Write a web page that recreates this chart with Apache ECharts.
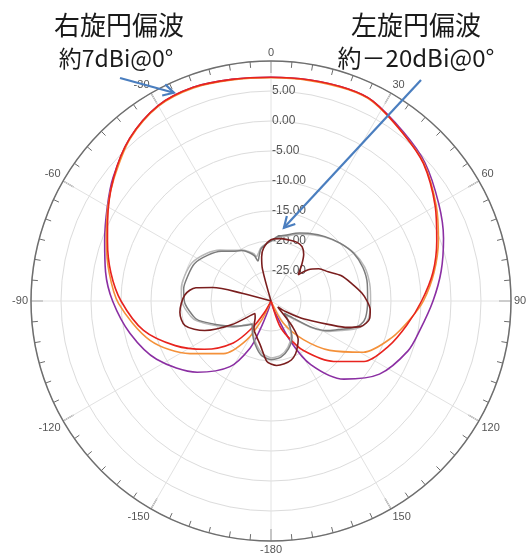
<!DOCTYPE html>
<html>
<head>
<meta charset="utf-8">
<script src="https://cdn.jsdelivr.net/npm/echarts@6/dist/echarts.min.js"></script>
<style>
  html, body { margin: 0; padding: 0; background: #fff; }
  #chart { width: 526px; height: 554px; }
</style>
</head>
<body>
<div id="chart"></div>
<script>
// Radiation pattern, gain in dBi versus angle in degrees (-180..180, 0 = boresight).
// Co-polar (right-hand circular) cuts
const rhcpPurple = [
  [-180,-30],[-165,-30],[-163,-28.4],[-159,-24.8],[-156,-21.4],[-148,-17.1],[-134,-12.9],
  [-117,-8.6],[-103,-5.9],[-90,-3.6],[-80,-2.0],[-70,-0.5],[-60,1.5],[-52,3.4],[-41,5.9],
  [-30,7.6],[-20,7.9],[-10,7.5],[0,7.3],[10,7.4],[20,7.6],[27,7.4],[38,5.8],[48,4.5],
  [60,2.3],[70,0.6],[80,-1.2],[90,-3.0],[101,-4.7],[110,-5.7],[124,-8.2],[137,-12.2],
  [148,-17.5],[154,-22.5],[160,-28],[163,-30],[180,-30]
];
const rhcpOrange = [
  [-180,-30],[-158,-30],[-154,-26.5],[-148,-22.3],[-138,-18.2],[-123,-13.9],[-108,-8.8],
  [-91,-4.6],[-80,-2.6],[-70,-0.8],[-60,1.4],[-52,3.2],[-41,5.8],[-30,7.5],[-20,7.8],
  [-10,7.4],[0,7.2],[10,7.3],[20,7.5],[27,7.3],[38,5.6],[48,4.3],[60,1.8],[70,-0.3],
  [80,-2.4],[90,-4.6],[97,-6.5],[107,-9.0],[119,-12.4],[130,-17.2],[140,-21.6],[151,-25.8],
  [158,-30],[180,-30]
];
const rhcpRed = [
  [-180,-30],[-156,-30],[-150,-27.8],[-145,-24.5],[-138,-20.6],[-126,-16.3],[-115,-12.4],
  [-103,-8.2],[-90,-5.0],[-80,-2.9],[-70,-1.0],[-64,0.3],[-52,3.3],[-41,5.9],[-30,7.6],
  [-20,7.9],[-10,7.5],[0,7.3],[10,7.4],[20,7.6],[27,7.4],[38,5.6],[48,4.2],[60,1.6],
  [70,-0.6],[80,-2.6],[90,-4.9],[100,-7.0],[111,-9.0],[123,-11.5],[134,-15.5],[147,-20.2],
  [155,-23.5],[161,-25.8],[166,-30],[180,-30]
];
// Cross-polar (left-hand circular) cuts
const lhcpGrayLight = [
  [-180,-20.5],[-170,-21.2],[-160,-22.6],[-150,-24],[-141,-25.2],[-133,-24.2],[-124,-22.2],
  [-113,-19.6],[-105,-17.2],[-101,-16.4],[-91,-15.2],[-82,-14.9],[-74,-15.0],[-64,-15.4],
  [-54,-16.6],[-45,-18.0],[-37,-19.4],[-30,-20.2],[-24,-21],[-20,-21.6],[-18,-22.2],
  [-15,-21.8],[-11,-21.0],[-6,-20.5],[0,-20],[6,-19.4],[12,-19.0],[23,-17.9],[30,-17.2],
  [40,-16.1],[50,-15.0],[60,-14.0],[70,-13.4],[80,-13.3],[90,-13.4],[100,-13.5],[105,-14.1],
  [109,-15.5],[113,-17.4],[118,-19.2],[123,-21.7],[128,-25],[133,-26.5],[140,-25.5],
  [150,-23.3],[160,-21.8],[170,-20.8],[180,-20.5]
];
const lhcpGray = [
  [-180,-20.2],[-170,-20.8],[-160,-22.3],[-150,-23.8],[-141,-25],[-133,-24],[-124,-22.5],
  [-113,-20],[-105,-17.5],[-101,-16.8],[-91,-15.6],[-82,-15.3],[-74,-15.5],[-64,-15.8],
  [-54,-17.0],[-45,-18.3],[-37,-19.6],[-30,-20.3],[-24,-21.2],[-20,-22.0],[-18,-23],
  [-15,-22.3],[-11,-21.2],[-6,-20.6],[0,-20],[6,-19.2],[12,-18.8],[23,-17.7],[30,-17.0],
  [40,-16.0],[50,-15.0],[60,-14.1],[70,-13.7],[80,-13.7],[90,-13.9],[100,-14.0],[105,-14.6],
  [109,-16.0],[113,-17.8],[118,-19.5],[123,-22],[128,-25.5],[133,-27],[140,-25.5],
  [150,-23],[160,-21.5],[170,-20.5],[180,-20.2]
];
const lhcpMaroon = [
  [-180,-19.5],[-176,-19.9],[-166,-22.5],[-158,-23.6],[-149,-24.5],[-143,-25.4],[-136,-26.2],
  [-128,-26.6],[-121,-22.3],[-114,-17.9],[-106,-15.1],[-97,-14.7],[-86,-15.6],[-80,-17.3],
  [-77,-20],[-75,-25],[-73,-30],[-17,-30],[-15,-24.5],[-12,-22.5],[-8,-21.1],[0,-19.8],
  [8,-19.5],[16,-19.4],[24,-19.3],[30,-19.6],[35,-20.5],[40,-22.0],[46,-23.7],[50,-21.9],
  [56,-20.4],[63,-19.3],[70,-17.6],[78,-16.2],[85,-14.8],[90,-14.0],[95,-13.4],[100,-13.3],
  [103,-13.7],[106,-14.5],[109,-16.5],[112,-19.5],[116,-22.5],[120,-24.5],[126,-27],
  [131,-28.5],[136,-27.5],[140,-24.5],[145,-22.1],[150,-21.2],[155,-20.3],[161,-19.6],
  [168,-19.3],[175,-19.2],[180,-19.5]
];

// Gain scale and angle ticks
const gainMin = -30, gainMax = 10, gainStep = 5;
const angleStep = 30;

// Annotations: text lines and the polar point each arrow points at ([gain, angle])
const noteLeft = ['右旋円偏波', '約7dBi@0°'];
const noteRight = ['左旋円偏波', '約－20dBi@0°'];
const arrowLeftTarget = [8.3, -25];
const arrowRightTarget = [-17.6, 10];

const toAxisAngle = a => (a < 0 ? a + 360 : a);
const toPolar = pairs => pairs.map(([a, g]) => [g, toAxisAngle(a)]);

const chart = echarts.init(document.getElementById('chart'), null, { renderer: 'canvas' });

function lineSeries(name, pairs, color, width) {
  return {
    name, type: 'line', coordinateSystem: 'polar',
    data: toPolar(pairs), showSymbol: false, symbol: 'none',
    smooth: 0.3, animation: false,
    lineStyle: { color, width }
  };
}

const center = [271, 301];
const outerR = 240;
const tickFont = 'Liberation Sans, Arial, sans-serif';

chart.setOption({
  backgroundColor: '#fff',
  animation: false,
  polar: { center, radius: outerR },
  angleAxis: {
    type: 'value', min: 0, max: 360, interval: angleStep,
    startAngle: 90, clockwise: true,
    axisLine: { lineStyle: { color: '#6e6e6e', width: 1.5 } },
    axisTick: { inside: true, length: 12, lineStyle: { color: '#6e6e6e', width: 1.2 } },
    minorTick: { show: true, splitNumber: 6, length: 6, lineStyle: { color: '#6e6e6e', width: 1 } },
    axisLabel: {
      margin: 3, color: '#555', fontSize: 11, fontFamily: tickFont,
      formatter: v => (v === 360 ? '' : String(v >= 180 ? v - 360 : v))
    },
    splitLine: { show: true, lineStyle: { color: '#e2e2e2', width: 1 } }
  },
  radiusAxis: {
    type: 'value', min: gainMin, max: gainMax, interval: gainStep,
    axisLine: { show: false }, axisTick: { show: false },
    axisLabel: {
      color: '#555', fontSize: 12, fontFamily: tickFont,
      margin: -1, align: 'left', verticalAlign: 'middle', padding: [0, 0, 4, 0],
      formatter: v => (v === gainMin || v === gainMax ? '' : v.toFixed(2))
    },
    splitLine: { show: true, lineStyle: { color: '#dcdcdc', width: 1 } }
  },
  series: [
    lineSeries('RHCP-3', rhcpPurple, '#8b2fa3', 1.6),
    lineSeries('RHCP-2', rhcpOrange, '#f4913a', 1.6),
    lineSeries('RHCP-1', rhcpRed, '#e8231e', 1.6),
    lineSeries('LHCP-3', lhcpGrayLight, '#b9b9b9', 1.5),
    lineSeries('LHCP-2', lhcpGray, '#7c7c7c', 1.5),
    lineSeries('LHCP-1', lhcpMaroon, '#7a1e1e', 1.6)
  ]
});

function toPixel(target) {
  const p = chart.convertToPixel({ polarIndex: 0 }, [target[0], toAxisAngle(target[1])]);
  if (p) return p;
  const r = (target[0] - gainMin) / (gainMax - gainMin) * outerR;
  const t = target[1] * Math.PI / 180;
  return [center[0] + r * Math.sin(t), center[1] - r * Math.cos(t)];
}

function arrow(from, to, color) {
  const ang = Math.atan2(to[1] - from[1], to[0] - from[0]);
  const len = 12, spread = 0.5;
  const a1 = [to[0] - len * Math.cos(ang - spread), to[1] - len * Math.sin(ang - spread)];
  const a2 = [to[0] - len * Math.cos(ang + spread), to[1] - len * Math.sin(ang + spread)];
  return [
    { type: 'polyline', shape: { points: [from, to] }, style: { stroke: color, lineWidth: 2.2, fill: null }, z: 100 },
    { type: 'polyline', shape: { points: [a1, to, a2] }, style: { stroke: color, lineWidth: 2.2, fill: null }, z: 100 }
  ];
}

const cjkFont = '"Noto Sans CJK JP", "Noto Sans", sans-serif';
const noteColor = '#1a1a1a';
const arrowColor = '#4a7ebf';

chart.setOption({
  graphic: [
    { type: 'text', x: 119, y: 25, z: 100, style: { text: noteLeft[0], font: '26px ' + cjkFont, fill: noteColor, align: 'center', verticalAlign: 'middle' } },
    { type: 'text', x: 116, y: 58, z: 100, style: { text: noteLeft[1], font: '23px ' + cjkFont, fill: noteColor, align: 'center', verticalAlign: 'middle' } },
    { type: 'text', x: 416, y: 25, z: 100, style: { text: noteRight[0], font: '26px ' + cjkFont, fill: noteColor, align: 'center', verticalAlign: 'middle' } },
    { type: 'text', x: 416, y: 58, z: 100, style: { text: noteRight[1], font: '24px ' + cjkFont, fill: noteColor, align: 'center', verticalAlign: 'middle' } },
    ...arrow([120, 78], toPixel(arrowLeftTarget), arrowColor),
    ...arrow([421, 80], toPixel(arrowRightTarget), arrowColor)
  ]
});
</script>
</body>
</html>
